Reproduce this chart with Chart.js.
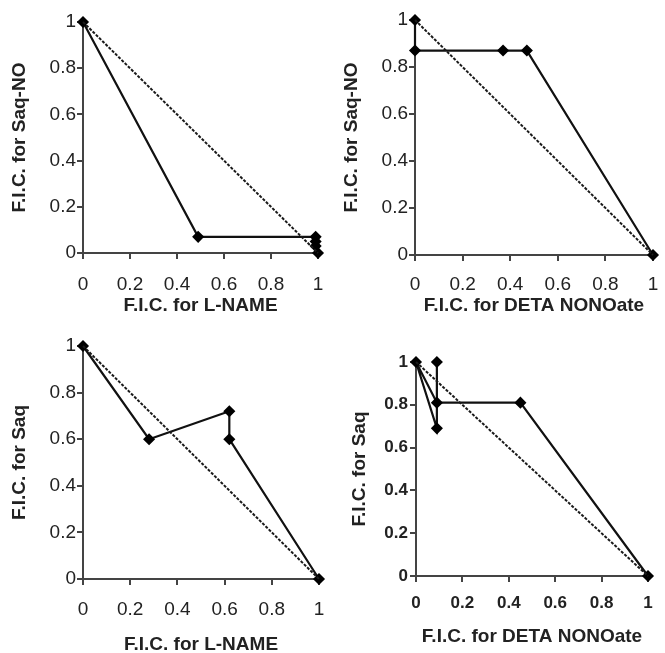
<!DOCTYPE html>
<html>
<head>
<meta charset="utf-8">
<script src="https://cdn.jsdelivr.net/npm/chart.js@4.4.1/dist/chart.umd.min.js"></script>
<style>
  html, body { margin: 0; padding: 0; background: #fff; overflow: hidden; width: 665px; height: 653px; }
  canvas { position: absolute; }
</style>
</head>
<body>
<canvas id="c1"></canvas>
<canvas id="c2"></canvas>
<canvas id="c3"></canvas>
<canvas id="c4"></canvas>
<script>
// top left: Saq-NO + L-NAME
var lnameX1 = [0, 0.49, 0.99, 0.99, 0.99, 1.0];
var saqnoY1 = [1, 0.07, 0.07, 0.05, 0.03, 0.0];
// top right: Saq-NO + DETA NONOate
var detaX2 = [0, 0, 0.37, 0.47, 1.0];
var saqnoY2 = [1, 0.87, 0.87, 0.87, 0.0];
// bottom left: Saq + L-NAME
var lnameX3 = [0, 0.28, 0.62, 0.62, 1.0];
var saqY3 = [1, 0.60, 0.72, 0.60, 0.0];
// bottom right: Saq + DETA NONOate
var detaX4 = [0.09, 0.09, 0, 0.09, 0.45, 1.0];
var saqY4 = [1.0, 0.69, 1, 0.81, 0.81, 0.0];
// line of additivity
var addX = [0, 1];
var addY = [1, 0];

var tickValues = [0, 0.2, 0.4, 0.6, 0.8, 1];

function pts(xs, ys) {
    return xs.map(function (x, i) { return { x: x, y: ys[i] }; });
}

function fmt(v) {
    return String(Math.round(v * 10) / 10);
}

function makePanel(id, p) {
    var cv = document.getElementById(id);
    var w = p.w;
    var h = Math.round(p.xTitleY + 11.4 - p.oy);
    cv.width = w; cv.height = h;
    cv.style.left = p.ox + 'px';
    cv.style.top = p.oy + 'px';
    var yW = p.area.l - p.ox;
    var xH = h - (p.area.b - p.oy);
    var tickLen = 6;
    var axis = '#444';
    new Chart(cv.getContext('2d'), {
        type: 'scatter',
        data: {
            datasets: [{
                data: pts(addX, addY),
                showLine: true,
                borderColor: '#1a1a1a',
                borderWidth: 2,
                borderDash: [3, 1.5],
                pointRadius: 0,
                clip: false
            }, {
                data: pts(p.xs, p.ys),
                showLine: true,
                borderColor: '#111',
                borderWidth: 2.2,
                pointStyle: 'rectRot',
                pointRadius: 4.5,
                pointBackgroundColor: '#000',
                pointBorderColor: '#000',
                clip: false
            }]
        },
        options: {
            responsive: false,
            devicePixelRatio: 1,
            animation: false,
            events: [],
            layout: { padding: { top: p.area.t - p.oy, right: p.ox + w - p.area.r, left: 0, bottom: 0 } },
            plugins: { legend: { display: false }, tooltip: { enabled: false } },
            scales: {
                x: {
                    type: 'linear', min: 0, max: 1,
                    afterFit: function (s) { s.height = xH; s.paddingLeft = 0; s.paddingRight = 0; },
                    afterBuildTicks: function (s) { s.ticks = tickValues.map(function (v) { return { value: v }; }); },
                    border: { color: axis, width: 2 },
                    grid: { drawOnChartArea: false, color: axis, lineWidth: 2, tickLength: tickLen },
                    ticks: { color: '#222', padding: p.xLabelY - p.area.b - 10 - tickLen, maxRotation: 0,
                        callback: fmt,
                        font: { family: 'Liberation Sans', size: p.tickSize, weight: p.tickWeight } },
                    title: { display: true, text: p.xTitle, color: '#222', padding: 0,
                        font: { family: 'Liberation Sans', size: 19, weight: 'bold' } }
                },
                y: {
                    type: 'linear', min: 0, max: 1,
                    afterFit: function (s) { s.width = yW; s.paddingTop = 0; s.paddingBottom = 0; },
                    afterBuildTicks: function (s) { s.ticks = tickValues.map(function (v) { return { value: v }; }); },
                    border: { color: axis, width: 2 },
                    grid: { drawOnChartArea: false, color: axis, lineWidth: 2, tickLength: tickLen },
                    ticks: { color: '#222', padding: p.area.l - p.yLabelRight - tickLen,
                        callback: fmt,
                        font: { family: 'Liberation Sans', size: p.tickSize, weight: p.tickWeight } },
                    title: { display: true, text: p.yTitle, color: '#222', padding: { top: p.yTitleX - p.ox - 11.4, bottom: 0 },
                        font: { family: 'Liberation Sans', size: 19, weight: 'bold' } }
                }
            }
        }
    });
}

makePanel('c1', { ox: 0, oy: 0, w: 332, area: { l: 83, r: 318, t: 22, b: 253 },
    xLabelY: 283, xTitleY: 306, yLabelRight: 76, yTitleX: 20, tickSize: 19, tickWeight: 'normal',
    xs: lnameX1, ys: saqnoY1, xTitle: 'F.I.C. for L-NAME', yTitle: 'F.I.C. for Saq-NO' });
makePanel('c2', { ox: 332, oy: 0, w: 333, area: { l: 415, r: 653, t: 20, b: 255 },
    xLabelY: 283, xTitleY: 306, yLabelRight: 408, yTitleX: 352, tickSize: 19, tickWeight: 'normal',
    xs: detaX2, ys: saqnoY2, xTitle: 'F.I.C. for DETA NONOate', yTitle: 'F.I.C. for Saq-NO' });
makePanel('c3', { ox: 0, oy: 320, w: 332, area: { l: 83, r: 319, t: 346, b: 579 },
    xLabelY: 608, xTitleY: 645, yLabelRight: 76, yTitleX: 20, tickSize: 19, tickWeight: 'normal',
    xs: lnameX3, ys: saqY3, xTitle: 'F.I.C. for L-NAME', yTitle: 'F.I.C. for Saq' });
makePanel('c4', { ox: 332, oy: 320, w: 333, area: { l: 416, r: 648, t: 362, b: 576 },
    xLabelY: 603, xTitleY: 637, yLabelRight: 408, yTitleX: 360, tickSize: 17, tickWeight: 'bold',
    xs: detaX4, ys: saqY4, xTitle: 'F.I.C. for DETA NONOate', yTitle: 'F.I.C. for Saq' });
</script>
</body>
</html>
